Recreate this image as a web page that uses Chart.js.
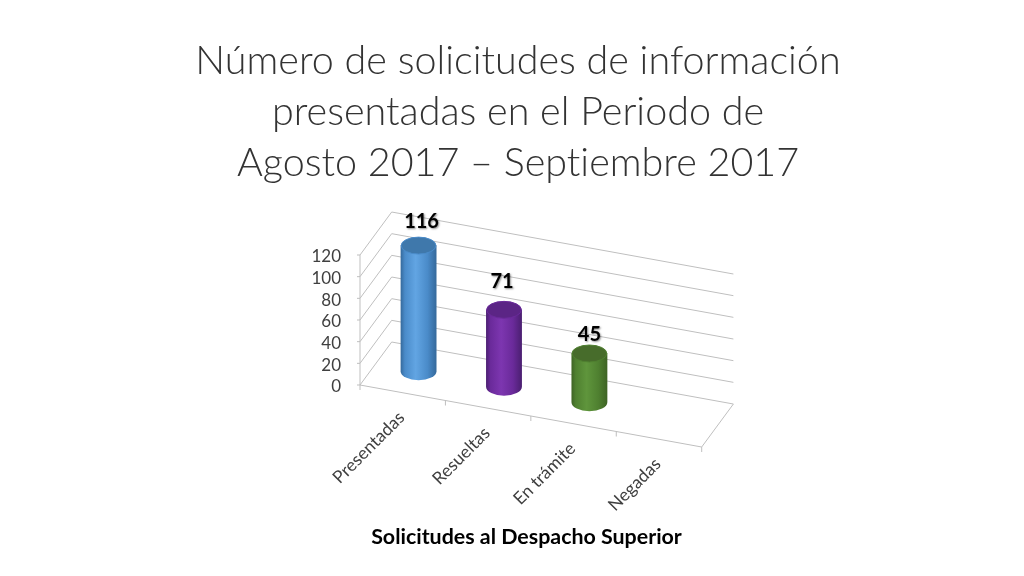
<!DOCTYPE html>
<html>
<head>
<meta charset="utf-8">
<style>
  html, body { margin: 0; background: #fff; }
  canvas { display: block; }
</style>
<script src="https://cdn.jsdelivr.net/npm/chart.js@4"></script>
</head>
<body>
<canvas id="chart" width="1024" height="576"></canvas>
<script>
const titleLines = [
  "Número de solicitudes de información",
  "presentadas en el Periodo de",
  "Agosto 2017 – Septiembre 2017"
];
const categories = ["Presentadas", "Resueltas", "En trámite", "Negadas"];
const solicitudes = [116, 71, 45, 0];
const yTicks = [0, 20, 40, 60, 80, 100, 120];
const xAxisTitle = "Solicitudes al Despacho Superior";

// [edge dark, mid, highlight, cap]
const bodyColors = [
  ["#35699b", "#4a8bc9", "#62a5e3", "#3f78ab"],
  ["#4a1f70", "#6a2a9a", "#7d36b0", "#5b2585"],
  ["#3e6324", "#4f8030", "#5f953c", "#476c2b"]
];
const labelNudgeX = [3, -2, 0];
const labelNudgeY = [-24, -28, -19];

const GRID = "#bfbfbf";
const INK = "#404040";
// parallel projection of the 3D box: shear along x, depth offset to the wall
const FLOOR_SLOPE = 62 / 341.7;
const DEPTH_X = 31.7;
const DEPTH_Y = -43;

function line(ctx, x1, y1, x2, y2) {
  ctx.beginPath();
  ctx.moveTo(x1, y1);
  ctx.lineTo(x2, y2);
  ctx.stroke();
}

const box3d = {
  id: "box3d",
  beforeDraw(chart) {
    // no "ti" ligature, the original font does not join them this way
    chart.ctx.textRendering = "optimizeSpeed";
  },
  beforeDatasetsDraw(chart) {
    const { ctx, chartArea: a, scales: { y } } = chart;
    const drop = a.width * FLOOR_SLOPE;
    ctx.save();
    ctx.strokeStyle = GRID;
    ctx.lineWidth = 1;
    ctx.font = "17px Lato";
    ctx.fillStyle = INK;
    ctx.textAlign = "right";
    ctx.textBaseline = "middle";
    // walls and value axis labels
    y.ticks.forEach((t) => {
      const py = y.getPixelForValue(t.value);
      line(ctx, a.left, py, a.left + DEPTH_X, py + DEPTH_Y);
      line(ctx, a.left + DEPTH_X, py + DEPTH_Y, a.right + DEPTH_X, py + DEPTH_Y + drop);
      line(ctx, a.left - 3, py, a.left, py);
      ctx.fillText(String(t.value), a.left - 19, py + 2);
    });
    line(ctx, a.left, a.top, a.left, a.bottom);
    // floor edges
    line(ctx, a.left, a.bottom, a.right, a.bottom + drop);
    line(ctx, a.right, a.bottom + drop, a.right + DEPTH_X, a.bottom + drop + DEPTH_Y);
    // ticks between categories
    for (let i = 0; i <= categories.length; i++) {
      const px = a.left + (a.width * i) / categories.length;
      const py = a.bottom + (px - a.left) * FLOOR_SLOPE;
      line(ctx, px, py, px, py + 5);
    }
    ctx.restore();
  },
  afterDatasetsDraw(chart) {
    const { ctx, chartArea: a } = chart;
    const bars = chart.getDatasetMeta(0).data;
    ctx.save();
    bars.forEach((bar, i) => {
      const front = bar.base + (bar.x - a.left) * FLOOR_SLOPE;
      // tick labels follow the sheared front edge
      ctx.save();
      ctx.translate(bar.x - 1, front + 22);
      ctx.rotate(-Math.PI / 4);
      ctx.font = "17.5px Lato";
      ctx.fillStyle = INK;
      ctx.textAlign = "right";
      ctx.textBaseline = "middle";
      ctx.fillText(categories[i], 0, 0);
      ctx.restore();

      if (!solicitudes[i]) return;
      const cx = bar.x + DEPTH_X / 2;
      const bottom = front + DEPTH_Y / 2;
      const top = bottom - (bar.base - bar.y);
      const rx = bar.width / 2;
      const ry = rx / 2;
      const c = bodyColors[i];

      const grad = ctx.createLinearGradient(cx - rx, 0, cx + rx, 0);
      grad.addColorStop(0, c[0]);
      grad.addColorStop(0.12, c[1]);
      grad.addColorStop(0.42, c[2]);
      grad.addColorStop(0.75, c[1]);
      grad.addColorStop(1, c[0]);
      ctx.fillStyle = grad;
      ctx.beginPath();
      ctx.moveTo(cx - rx, top);
      ctx.lineTo(cx - rx, bottom);
      ctx.ellipse(cx, bottom, rx, ry, 0, Math.PI, 0, true);
      ctx.lineTo(cx + rx, top);
      ctx.closePath();
      ctx.fill();

      ctx.fillStyle = c[3];
      ctx.strokeStyle = c[1];
      ctx.lineWidth = 1;
      ctx.beginPath();
      ctx.ellipse(cx, top, rx - 0.5, ry - 0.5, 0, 0, Math.PI * 2);
      ctx.fill();
      ctx.stroke();

      // value label
      ctx.font = "bold 20px Lato";
      ctx.textAlign = "center";
      ctx.textBaseline = "middle";
      ctx.shadowColor = "rgba(0,0,0,0.45)";
      ctx.shadowBlur = 2;
      ctx.shadowOffsetX = 1;
      ctx.shadowOffsetY = 1;
      ctx.fillStyle = "#000";
      ctx.fillText(String(solicitudes[i]), cx + labelNudgeX[i], top + labelNudgeY[i]);
      ctx.shadowColor = "transparent";
    });

    ctx.font = "bold 21.4px Lato";
    ctx.fillStyle = "#000";
    ctx.textAlign = "center";
    ctx.textBaseline = "middle";
    ctx.fillText(xAxisTitle, 526.5, 537);
    ctx.restore();
  }
};

new Chart(document.getElementById("chart"), {
  type: "bar",
  data: {
    labels: categories,
    datasets: [
      {
        data: solicitudes,
        backgroundColor: "transparent",
        barPercentage: 1,
        categoryPercentage: 0.42
      }
    ]
  },
  options: {
    responsive: false,
    animation: false,
    layout: { padding: { left: 12, right: 0, top: 0, bottom: 0 } },
    plugins: {
      legend: { display: false },
      tooltip: { enabled: false },
      title: {
        display: true,
        text: titleLines,
        color: "#333333",
        font: { family: "Lato", size: 39.5, weight: "300", lineHeight: "51px" },
        padding: { top: 36, bottom: 66 }
      }
    },
    scales: {
      x: {
        grid: { display: false },
        border: { display: false },
        ticks: { display: false },
        afterFit(scale) {
          scale.height = 191;
        }
      },
      y: {
        min: 0,
        max: 120,
        grid: { display: false },
        border: { display: false },
        afterBuildTicks(scale) {
          scale.ticks = yTicks.map((value) => ({ value }));
        },
        ticks: { display: false },
        afterFit(scale) {
          scale.width = 348;
        }
      },
      // empty axis, only reserves the space right of the box
      spacer: {
        position: "right",
        grid: { display: false },
        border: { display: false },
        ticks: { display: false },
        afterFit(scale) {
          scale.width = 322.3;
        }
      }
    }
  },
  plugins: [box3d]
});
</script>
</body>
</html>
